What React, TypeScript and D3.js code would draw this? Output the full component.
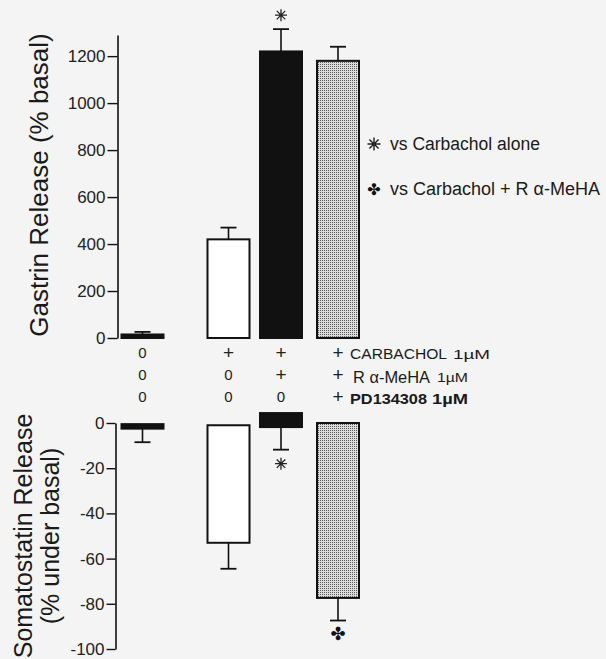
import { useEffect, useRef } from 'react';
import * as d3 from 'd3';

// treatment groups, left to right
const groups = ['basal', 'carbachol', 'carbachol+RaMeHA', 'carbachol+RaMeHA+PD'];

// gastrin release (% basal), mean and SEM
const gastrinValues = [15, 420, 1220, 1180];
const gastrinErrors = [11, 50, 95, 60];
const gastrinMarks = ['', '', 'asterisk', ''];
const gastrinTicks = [0, 200, 400, 600, 800, 1000, 1200];

// somatostatin release (% under basal): bar start, bar end, SEM
const somaStart = [-0.5, -1, 4.4, 0];
const somaValues = [-2.5, -53, -1.8, -77.4];
const somaErrors = [6, 11.5, 10, 10];
const somaMarks = ['', '', 'asterisk', 'clover'];
const somaTicks = [0, -20, -40, -60, -80, -100];

// treatment table under the top panel
const carbacholRow = ['0', '+', '+', '+'];
const meHARow = ['0', '0', '+', '+'];
const pdRow = ['0', '0', '0', '+'];

const FONT = '"Liberation Sans", Arial, Helvetica, sans-serif';
const W = 606;
const H = 659;

const barFill = (i: number) => {
    if (i === 1) return '#ffffff';
    if (i === 3) return 'url(#stipple)';
    return '#111111';
};

// eight-spoke asterisk
const asteriskPath = (cx: number, cy: number, r: number) => {
    const p = d3.path();
    for (let k = 0; k < 4; k++) {
        const a = (k * Math.PI) / 4;
        p.moveTo(cx - r * Math.cos(a), cy - r * Math.sin(a));
        p.lineTo(cx + r * Math.cos(a), cy + r * Math.sin(a));
    }
    return p.toString();
};

const App = () => {
    const svgRef = useRef<SVGSVGElement>(null);

    useEffect(() => {
        if (!svgRef.current) return;
        const svg = d3.select(svgRef.current);
        svg.selectAll('*').remove();

        const defs = svg.append('defs');
        const pat = defs.append('pattern')
            .attr('id', 'stipple')
            .attr('width', 2)
            .attr('height', 2)
            .attr('patternUnits', 'userSpaceOnUse');
        pat.append('rect').attr('width', 2).attr('height', 2).attr('fill', '#dcdcdc');
        pat.append('rect').attr('width', 1).attr('height', 1).attr('fill', '#5a5a5a');

        svg.append('rect').attr('width', W).attr('height', H).attr('fill', '#f4f4f4');

        const barWidth = 42;
        const capWidth = 16;
        const plainFormat = (d: d3.NumberValue) => String(d);

        const x = d3.scaleOrdinal<string, number>()
            .domain(groups)
            .range([142.5, 228.5, 281, 338]);

        // ---- top panel: gastrin ----
        const yTop = d3.scaleLinear().domain([0, 1290]).range([338, 35]);

        const topAxis = svg.append('g')
            .attr('transform', 'translate(117.5,0)')
            .call(d3.axisLeft(yTop).tickValues(gastrinTicks).tickFormat(plainFormat)
                .tickSize(10).tickSizeOuter(0).tickPadding(2));
        topAxis.select('.domain').attr('stroke', '#111').attr('stroke-width', 1.6);
        topAxis.selectAll('.tick line').attr('stroke', '#111').attr('stroke-width', 1.4);
        topAxis.selectAll('.tick text')
            .attr('fill', '#222')
            .style('font-family', FONT)
            .style('font-size', '17px');

        const gTop = svg.append('g');
        gastrinValues.forEach((v, i) => {
            const cx = x(groups[i]);
            gTop.append('rect')
                .attr('x', cx - barWidth / 2)
                .attr('y', yTop(v))
                .attr('width', barWidth)
                .attr('height', yTop(0) - yTop(v))
                .attr('fill', barFill(i))
                .attr('stroke', '#111')
                .attr('stroke-width', 2);
            const e = v + gastrinErrors[i];
            gTop.append('line')
                .attr('x1', cx).attr('x2', cx)
                .attr('y1', yTop(v)).attr('y2', yTop(e))
                .attr('stroke', '#111').attr('stroke-width', 1.6);
            gTop.append('line')
                .attr('x1', cx - capWidth / 2).attr('x2', cx + capWidth / 2)
                .attr('y1', yTop(e)).attr('y2', yTop(e))
                .attr('stroke', '#111').attr('stroke-width', 1.8);
            if (gastrinMarks[i] === 'asterisk') {
                gTop.append('path')
                    .attr('d', asteriskPath(cx, yTop(e) - 14, 6))
                    .attr('stroke', '#222').attr('stroke-width', 1.3).attr('fill', 'none');
            }
        });

        // treatment table
        const rows = [carbacholRow, meHARow, pdRow];
        const rowBase = [358, 380, 402];
        rows.forEach((row, r) => {
            row.forEach((s, i) => {
                svg.append('text')
                    .attr('x', x(groups[i]))
                    .attr('y', rowBase[r] + (s === '+' ? 1 : 0))
                    .attr('text-anchor', 'middle')
                    .attr('fill', '#222')
                    .style('font-family', FONT)
                    .style('font-size', s === '+' ? '19px' : '15px')
                    .text(s);
            });
        });

        const rowLabels = [
            { text: 'CARBACHOL', x: 350, y: 359, size: 14, len: 97, weight: 'normal' },
            { text: '1µM', x: 453, y: 359, size: 12, len: 37, weight: 'normal' },
            { text: 'R α-MeHA', x: 353, y: 383, size: 17, len: 77, weight: 'normal' },
            { text: '1µM', x: 437, y: 382, size: 12, len: 31, weight: 'normal' },
            { text: 'PD134308', x: 350, y: 404, size: 14, len: 77, weight: 'bold' },
            { text: '1µM', x: 432, y: 404, size: 14, len: 36, weight: 'bold' },
        ];
        rowLabels.forEach(l => {
            svg.append('text')
                .attr('x', l.x)
                .attr('y', l.y)
                .attr('textLength', l.len)
                .attr('lengthAdjust', 'spacingAndGlyphs')
                .attr('fill', '#1a1a1a')
                .style('font-family', FONT)
                .style('font-size', `${l.size}px`)
                .style('font-weight', l.weight)
                .text(l.text);
        });

        // ---- bottom panel: somatostatin ----
        const yBot = d3.scaleLinear().domain([0, -100]).range([423, 649]);

        const botAxis = svg.append('g')
            .attr('transform', 'translate(115.5,0)')
            .call(d3.axisLeft(yBot).tickValues(somaTicks).tickFormat(plainFormat)
                .tickSize(9).tickSizeOuter(0).tickPadding(2));
        botAxis.select('.domain').attr('stroke', '#111').attr('stroke-width', 1.6);
        botAxis.selectAll('.tick line').attr('stroke', '#111').attr('stroke-width', 1.4);
        botAxis.selectAll('.tick text')
            .attr('fill', '#222')
            .style('font-family', FONT)
            .style('font-size', '17px');

        const gBot = svg.append('g');
        somaValues.forEach((v, i) => {
            const cx = x(groups[i]);
            const top = yBot(somaStart[i]);
            gBot.append('rect')
                .attr('x', cx - barWidth / 2)
                .attr('y', top)
                .attr('width', barWidth)
                .attr('height', yBot(v) - top)
                .attr('fill', barFill(i))
                .attr('stroke', '#111')
                .attr('stroke-width', 2);
            const e = v - somaErrors[i];
            gBot.append('line')
                .attr('x1', cx).attr('x2', cx)
                .attr('y1', yBot(v)).attr('y2', yBot(e))
                .attr('stroke', '#111').attr('stroke-width', 1.6);
            gBot.append('line')
                .attr('x1', cx - capWidth / 2).attr('x2', cx + capWidth / 2)
                .attr('y1', yBot(e)).attr('y2', yBot(e))
                .attr('stroke', '#111').attr('stroke-width', 1.8);
            if (somaMarks[i] === 'asterisk') {
                gBot.append('path')
                    .attr('d', asteriskPath(cx, yBot(e) + 14, 6))
                    .attr('stroke', '#222').attr('stroke-width', 1.3).attr('fill', 'none');
            } else if (somaMarks[i] === 'clover') {
                gBot.append('text')
                    .attr('x', cx)
                    .attr('y', yBot(e) + 19)
                    .attr('text-anchor', 'middle')
                    .attr('fill', '#111')
                    .style('font-family', '"DejaVu Sans", sans-serif')
                    .style('font-size', '18px')
                    .text('✤');
            }
        });

        // axis titles
        svg.append('text')
            .attr('transform', 'translate(48,185) rotate(-90)')
            .attr('text-anchor', 'middle')
            .attr('fill', '#1a1a1a')
            .style('font-family', FONT)
            .style('font-size', '26px')
            .text('Gastrin Release (% basal)');
        svg.append('text')
            .attr('transform', 'translate(32,536) rotate(-90)')
            .attr('text-anchor', 'middle')
            .attr('fill', '#1a1a1a')
            .style('font-family', FONT)
            .style('font-size', '25px')
            .text('Somatostatin Release');
        svg.append('text')
            .attr('transform', 'translate(59,536) rotate(-90)')
            .attr('text-anchor', 'middle')
            .attr('fill', '#1a1a1a')
            .style('font-family', FONT)
            .style('font-size', '25px')
            .text('(% under basal)');

        // legend
        svg.append('path')
            .attr('d', asteriskPath(374, 144, 6.5))
            .attr('stroke', '#222').attr('stroke-width', 1.4).attr('fill', 'none');
        svg.append('text')
            .attr('x', 374)
            .attr('y', 195)
            .attr('text-anchor', 'middle')
            .attr('fill', '#111')
            .style('font-family', '"DejaVu Sans", sans-serif')
            .style('font-size', '16px')
            .text('✤');
        svg.append('text')
            .attr('x', 390).attr('y', 150)
            .attr('textLength', 150).attr('lengthAdjust', 'spacingAndGlyphs')
            .attr('fill', '#1a1a1a')
            .style('font-family', FONT).style('font-size', '18px')
            .text('vs Carbachol alone');
        svg.append('text')
            .attr('x', 390).attr('y', 195)
            .attr('textLength', 210).attr('lengthAdjust', 'spacingAndGlyphs')
            .attr('fill', '#1a1a1a')
            .style('font-family', FONT).style('font-size', '18px')
            .text('vs Carbachol + R α-MeHA');
    }, []);

    return (
        <svg
            ref={svgRef}
            width={W}
            height={H}
            style={{ position: 'absolute', left: 0, top: 0 }}
        />
    );
};

export default App;
